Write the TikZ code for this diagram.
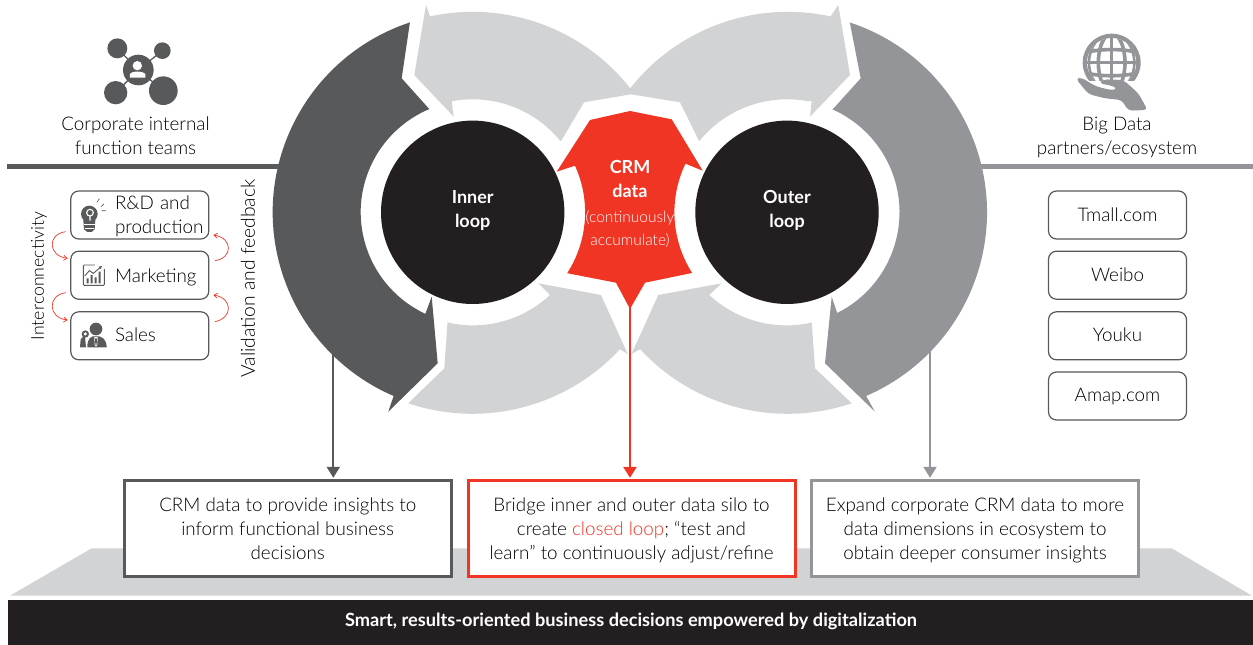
\documentclass[tikz,border=0pt]{standalone}
\usepackage{fontspec}
\setmainfont[UprightFont=* Light,BoldFont=* Bold]{Lato}
\usetikzlibrary{calc,arrows.meta}
\definecolor{cdark}{HTML}{58595B}
\definecolor{cmid}{HTML}{939598}
\definecolor{clight}{HTML}{D1D3D4}
\definecolor{cred}{HTML}{F03525}
\definecolor{cblack}{HTML}{231F20}
\newcommand{\fbody}{\fontsize{18.8}{24}\selectfont}
\newcommand{\lstrut}{\rule[-5.2pt]{0pt}{24pt}}
\newcommand{\rstrut}{\rule[-6.2pt]{0pt}{24pt}}
\tikzset{
 txt/.style={font=\fbody,text=black,align=center,inner sep=0pt},
 rolebox/.style={draw=cdark,line width=1.2pt,rounded corners=8pt,fill=white,minimum width=138pt,minimum height=48pt,inner sep=0pt,
   font=\fbody,text=black,align=center},
 leftbox/.style={rolebox,text width=136pt,align=left},
 resultbox/.style={draw=#1,line width=3pt,fill=white,minimum width=327pt,minimum height=96pt,inner sep=0pt,
   font=\fbody,text=black,align=center},
 circ/.style={fill=cblack,draw=none,circle,minimum size=183.4pt,inner sep=0pt,text=white,font=\fontsize{18}{24}\selectfont\bfseries,align=center},
 lead/.style={line width=#1,-{Triangle[width=13pt,length=11pt]},shorten >=1pt},
 loopback/.style={draw=cred,line width=.7pt,-{Straight Barb[length=3.5pt,width=5pt]}},
}
\begin{document}
\begin{tikzpicture}[x=1pt,y=1pt,yscale=-1]
\path[use as bounding box] (0,0) rectangle (1253,645);
% base
\fill[clight] (10,595.7) -- (91.7,548.3) -- (1171.7,548.3) -- (1252,595.7) -- cycle;
\node[fill=cblack,minimum width=1245pt,minimum height=45pt,inner sep=0pt] (bar) at (630.7,622.5) {};
\node[text=white,font=\fontsize{18.2}{22}\selectfont\bfseries,inner sep=0pt] (bartext) at (631,621) {Smart, results-oriented business decisions empowered by digitalization};
% rules
\coordinate (lruleA) at (7,166.7); \coordinate (lruleB) at (300,166.7);
\coordinate (rruleA) at (960,166.7); \coordinate (rruleB) at (1253,166.7);
\draw[cdark,line width=5pt] (lruleA) -- (lruleB);
\draw[cmid,line width=5pt] (rruleA) -- (rruleB);
% result boxes
\node[resultbox=cdark] (resA) at (287.7,528.3) {\lstrut CRM data to provide insights to\\\lstrut inform functional business\\\lstrut decisions};
\node[resultbox=cred] (resB) at (631.5,528.3) {\lstrut Bridge inner and outer data silo to\\\lstrut create \textcolor{cred}{closed loop}; “test and\\\lstrut learn” to continuously adjust/refine};
\node[resultbox=cmid] (resC) at (975,528.3) {\lstrut Expand corporate CRM data to more\\\lstrut data dimensions in ecosystem to\\\lstrut obtain deeper consumer insights};
% connectors
\coordinate (fromA) at (333.3,350);
\coordinate (fromB) at (630,300);
\coordinate (fromC) at (930,345);
\draw[lead=2.2pt,cdark] (fromA) -- (fromA |- resA.north);
\draw[lead=2.2pt,cmid] (fromC) -- (fromC |- resC.north);
\draw[lead=2.6pt,cred] (fromB) -- (fromB |- resB.north);
% loops
\coordinate (cI) at (472.7,212.3);
\coordinate (cO) at (787,212.3);
% inner top + outer top (one light shape)
\fill[clight] (426,5) -- ($(cI)+(257.7:200.5)$) arc[start angle=257.7,end angle=321.8,radius=200.5]
  arc[start angle=218.2,end angle=282.3,radius=200.5]
  -- (838.3,5) -- (850,75) -- (810,116.7) -- (811.7,101)
  -- ($(cO)+(280.7:113)$) arc[start angle=280.7,end angle=219,radius=113]
  -- (680,102.3) -- (631,94.3) -- (584,102.3) -- (561.7,140)
  -- ($(cI)+(321:113)$) arc[start angle=321,end angle=259.3,radius=113]
  -- (453.7,116.7) -- (414.3,75) -- cycle;
% bottom light shapes
\fill[clight] (408.3,403.3) arc[start angle=108.6,end angle=42.7,radius=200.8] -- (627.7,354) -- (601,295) -- (538.3,283.3) -- (550,295)
  arc[start angle=47,end angle=103,radius=113] -- (444.3,368.3) -- cycle;
\fill[clight] (851.7,403.3) arc[start angle=71.4,end angle=137.3,radius=200.8] -- (631.5,354) -- (658.3,295) -- (721.7,283.3) -- (709.3,295)
  arc[start angle=133,end angle=77,radius=113] -- (815,368.3) -- cycle;
% dark arrow
\fill[cdark] ($(cI)+(251.7:200)$) arc[start angle=251.7,end angle=113.3,radius=200]
  -- (388.3,411.7) -- (437.7,363.3) -- (431.7,296.7) -- ($(cI)+(115:112)$) arc[start angle=115,end angle=247.2,radius=112]
  -- (401.7,78.3) -- cycle;
% mid arrow
\fill[cmid] ($(cO)+(288.3:200)$) arc[start angle=288.3,end angle=426.7,radius=200]
  -- (875,411.7) -- (825,363.3) -- (831.7,296.7) -- ($(cO)+(63.5:112.5)$) arc[start angle=63.5,end angle=-66.1,radius=112.5]
  -- (860.7,78.3) -- cycle;
% red arrow
\fill[cred] (630,111) -- (590,120) -- (556.7,171.7) -- ($(cI)+(-24.5:112.4)$) arc[start angle=-24.5,end angle=32.8,radius=112.4]
  -- (616,282.7) -- (630,309) -- (645,282.7) -- ($(cO)+(147.4:112.6)$) arc[start angle=147.4,end angle=205.6,radius=112.6]
  -- (702.7,170.7) -- (671.7,119.3) -- cycle;
\node[circ] (inner) at (cI) {Inner\\loop\rule[-6.5pt]{0pt}{1pt}};
\node[circ] (outer) at (cO) {Outer\\loop\rule[-6.5pt]{0pt}{1pt}};
\node[text=white,inner sep=0pt,align=center,font=\fontsize{18}{24}\selectfont\bfseries] (crm) at (630,179) {CRM\\data};
\node[text=white,inner sep=0pt,align=center,font=\fontsize{15.5}{23}\selectfont] (cont) at (630,229) {(continuously\\accumulate)};
% headings
\node[txt] (headL) at (135.5,135.5) {\lstrut Corporate internal\\\lstrut function teams};
\node[txt] (headR) at (1117,135.5) {\lstrut Big Data\\\lstrut partners/ecosystem};
% left boxes
\node[leftbox] (rd) at (139.8,215) {\lstrut\hspace*{43.2pt}R\&D and\\\lstrut\hspace*{43.2pt}production};
\node[leftbox] (mk) at (139.8,275.2) {\lstrut\hspace*{43.2pt}Marketing};
\node[leftbox] (sa) at (139.8,335.8) {\rstrut\hspace*{43.2pt}Sales};
% right boxes
\node[rolebox] (t1) at (1117.5,215) {\lstrut Tmall.com};
\node[rolebox] (t2) at (1117.5,275.2) {\rstrut Weibo};
\node[rolebox] (t3) at (1117.5,335.8) {\rstrut Youku};
\node[rolebox] (t4) at (1117.5,396) {\rstrut Amap.com};
% rotated labels
\node[txt,rotate=90,font=\fontsize{17.7}{24}\selectfont] (lab1) at (39,276) {Interconnectivity};
\node[txt,rotate=90,font=\fontsize{19.3}{24}\selectfont] (lab2) at (248,278.5) {Validation and feedback};
% curved red arrows
\coordinate (a1) at (65.7,231.7); \coordinate (a2) at (67.7,258.3);
\coordinate (a3) at (65.7,292.7); \coordinate (a4) at (67.7,320);
\coordinate (b1) at (215,260.7); \coordinate (b2) at (213.3,235);
\coordinate (b3) at (215,321.7); \coordinate (b4) at (213.3,295);
\draw[loopback] (a1) .. controls (47,234) and (48,256) .. (a2);
\draw[loopback] (a3) .. controls (47,295) and (48,318) .. (a4);
\draw[loopback] (b1) .. controls (233,258) and (233,238) .. (b2);
\draw[loopback] (b3) .. controls (233,318) and (233,298) .. (b4);
% network icon
\begin{scope}[shift={(0,20)},scale=1/3]
 \draw[cdark,line width=1.3pt] (352,85) -- (415,150) (487,92) -- (415,150) (347,218) -- (415,150) (490,212) -- (415,150);
 \fill[cdark] (352,85) circle (30) (487,92) circle (25) (347,218) circle (35) (490,212) circle (43) (415,150) circle (46);
 \fill[white] (412,137) circle (14);
 \fill[white] (390,173) -- (390,163) .. controls (392,152) and (432,152) .. (436,163) -- (436,173) -- cycle;
\end{scope}
% globe icon
\begin{scope}[shift={(1020,20)},scale=1/3]
 \fill[cmid] (275,128) circle (87);
 \begin{scope}
  \clip (275,128) circle (74);
  \fill[white] (275,128) circle (74);
  \draw[cmid,line width=3.6pt] (275,40) -- (275,216) (190,128) -- (360,128);
  \draw[cmid,line width=3.6pt] (190,100) .. controls (230,85) and (320,85) .. (360,100) (190,156) .. controls (230,171) and (320,171) .. (360,156);
  \draw[cmid,line width=3.6pt] (275,128) ellipse (40 and 87);
  \draw[cmid,line width=2.6pt] (275,128) ellipse (68 and 87);
 \end{scope}
 \fill[white] (205,182) -- (345,182) -- (345,230) -- (205,230) -- cycle;
 \fill[cmid,rounded corners=4pt] (167,175) -- (185,173) -- (225,198) -- (270,210) -- (293,208) -- (280,198) -- (237,190) -- (250,178) -- (310,180) -- (355,220) -- (383,270) -- (325,272) -- (305,240) -- (255,235) -- (205,222) -- cycle;
\end{scope}
% row icons
\begin{scope}[shift={(0,20)},scale=1/3]
 % bulb
 \fill[cdark] (268,582) circle (25);
 \fill[cdark] (250,600) -- (286,600) -- (284,628) -- (275,636) -- (262,636) -- (252,628) -- cycle;
 \draw[white,line width=1.1pt] (270,578) circle (10) (270,588) -- (270,602);
 \draw[white,line width=.6pt] (252,614) -- (284,614) (254,624) -- (282,624);
 \draw[cdark,line width=.7pt] (291,547) -- (298,536) (303,560) -- (312,552) (305,572) -- (318,572);
 % marketing
 \draw[cdark,line width=.9pt,rounded corners=1pt] (250,735) -- (250,796) -- (313,796) -- (313,735) -- cycle;
 \fill[white] (285,730) rectangle (318,748);
 \fill[cdark] (260,775) rectangle (266,790) (272,765) rectangle (278,790) (284,772) rectangle (290,790) (296,755) rectangle (302,790);
 \draw[cdark,line width=.9pt,-{Triangle[length=3pt,width=3pt]}] (254,768) -- (268,752) -- (280,760) -- (306,738);
 % sales
 \fill[cdark] (288,927) circle (19);
 \fill[cdark] (262,982) .. controls (262,955) and (272,948) .. (288,948) .. controls (306,948) and (320,958) .. (320,982) -- cycle;
 \fill[white] (283,950) -- (293,950) -- (292,975) -- (288,980) -- (284,975) -- cycle;
 \fill[cdark] (285,955) -- (291,955) -- (290,973) -- (288,976) -- (286,973) -- cycle;
 \fill[cdark] (255,945) -- (242,958) -- (240,982) -- (258,982) -- (256,960) -- cycle;
 \fill[cdark] (256,942) circle (11);
 \fill[white] (256,942) circle (5);
\end{scope}
\end{tikzpicture}
\end{document}
